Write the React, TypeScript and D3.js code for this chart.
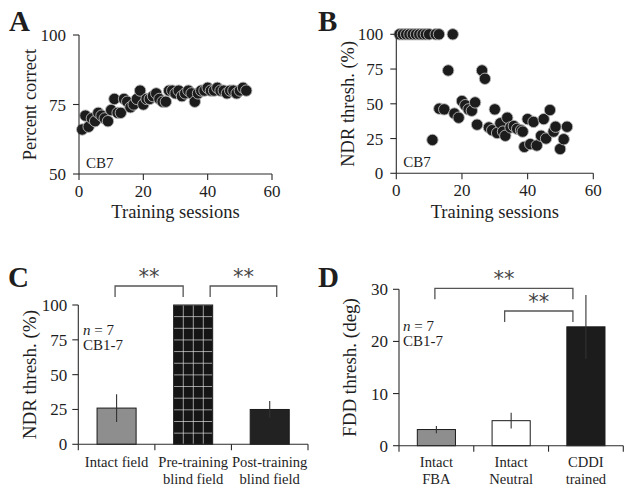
import React from "react";
import * as d3 from "d3";

// ---------- Data ----------
const aSessions = [1,2,3,4,5,6,7,8,9,10,11,12,13,14,15,16,17,18,19,20,21,22,23,24,25,26,27,28,29,30,31,32,33,34,35,36,37,38,39,40,41,42,43,44,45,46,47,48,49,50,51,52];
const aPercent = [66,71,67,70,69,72,71,70,69,73,77,72,72,77,76,74,75,77,80,75,77,77,78,79,77,76,76,80,80,79,80,78,79,80,79,76,79,80,80,81,80,80,81,80,80,79,80,80,79,80,81,80];

const bSessions = [1,2,3,4,5,6,7,8,9,10,12,13,11,13.1,14.6,15.8,17.2,17.7,19,20,21,22,23,24,24.6,26.1,27,28.2,29.2,30,30.7,31.7,32.5,33.2,33.8,34.8,35.8,36.8,38,38.5,39,40,40.8,41.8,42.8,44.1,44.9,45.6,46.8,47.9,48.5,49.9,51,52];
const bThresh = [100,100,100,100,100,100,100,100,100,100,100,100,24,46.5,46,74,100,43,40,52,49,46,45,51,35,74,68,33,31,46,29,36,30,27,40,33,34,32,31,30,19,39,21,37,20,27,39,25,45.5,30,33.5,17.5,24.5,33.5];

const cCategories = [["Intact field"], ["Pre-training", "blind field"], ["Post-training", "blind field"]];
const cValues = [26, 100, 25];
const cErrors = [10, 0, 6];

const dCategories = [["Intact", "FBA"], ["Intact", "Neutral"], ["CDDI", "trained"]];
const dValues = [3.1, 4.8, 22.8];
const dErrors = [0.7, 1.5, 6.1];

const abXTicks = [0, 20, 40, 60];
const aYTicks = [50, 75, 100];
const bYTicks = [0, 25, 50, 75, 100];
const cYTicks = [0, 25, 50, 75, 100];
const dYTicks = [0, 10, 20, 30];

// ---------- Styles ----------
const FONT = "'Liberation Serif', 'Times New Roman', serif";
const AX = "#2a2a2a";
const TXT = "#1e1e1e";

function YAxis({ x, scale, ticks, gap, fontSize = 17 }) {
  const [r0, r1] = scale.range();
  return (
    <g>
      <line x1={x} x2={x} y1={r0} y2={r1} stroke={AX} strokeWidth={1.1} />
      {ticks.map((t) => (
        <g key={t}>
          <line x1={x - 6} x2={x} y1={scale(t)} y2={scale(t)} stroke={AX} strokeWidth={1.1} />
          <text x={x - gap} y={scale(t) + 6} textAnchor="end" fontSize={fontSize} fill={TXT} fontFamily={FONT}>{t}</text>
        </g>
      ))}
    </g>
  );
}

function Scatter({ x0, x1, yTop, yBot, yDomain, yTicks, xs, ys, ylabel, ylabelX, title, titleX }) {
  const xScale = d3.scaleLinear().domain([0, 60]).range([x0, x1]);
  const yScale = d3.scaleLinear().domain(yDomain).range([yBot, yTop]);
  return (
    <g>
      <text x={titleX} y={31} fontSize={29} fontWeight="bold" fontFamily={FONT} fill={TXT}>{title}</text>
      {xs.map((x, i) => (
        <circle key={i} cx={xScale(x)} cy={yScale(ys[i])} r={5.7} fill="#1c1c1c" stroke="#b8b8b8" strokeWidth={0.9} />
      ))}
      <YAxis x={x0} scale={yScale} ticks={yTicks} gap={13} />
      <line x1={x0} x2={x1} y1={yBot} y2={yBot} stroke={AX} strokeWidth={1.1} />
      {abXTicks.map((t) => (
        <g key={t}>
          <line x1={xScale(t)} x2={xScale(t)} y1={yBot} y2={yBot + 6} stroke={AX} strokeWidth={1.1} />
          <text x={xScale(t)} y={yBot + 23} textAnchor="middle" fontSize={17} fill={TXT} fontFamily={FONT}>{t}</text>
        </g>
      ))}
      <text x={(x0 + x1) / 2} y={218} textAnchor="middle" fontSize={18.5} fill={TXT} fontFamily={FONT}>Training sessions</text>
      <text transform={`translate(${ylabelX},${(yTop + yBot) / 2}) rotate(-90)`} textAnchor="middle" fontSize={18.5} fill={TXT} fontFamily={FONT}>{ylabel}</text>
      <text x={x0 + 7} y={yBot - 6} fontSize={15} fill={TXT} fontFamily={FONT}>CB7</text>
    </g>
  );
}

function Bars({ x0, x1, yTop, yBot, yMax, yTicks, values, errors, categories, fills, ylabel, ylabelX, title, titleX, noteX, noteY, brackets, patternIdx }) {
  const band = d3.scaleBand().domain(d3.range(categories.length)).range([x0, x1]);
  const yScale = d3.scaleLinear().domain([0, yMax]).range([yBot, yTop]);
  const bw = band.bandwidth() * 0.51;
  const boundaries = d3.range(categories.length + 1).map((i) => x0 + i * band.step());
  return (
    <g>
      <text x={titleX} y={287} fontSize={29} fontWeight="bold" fontFamily={FONT} fill={TXT}>{title}</text>
      {values.map((v, i) => {
        const cx = band(i) + band.bandwidth() / 2;
        const bx = cx - bw / 2;
        const top = yScale(v);
        return (
          <g key={i}>
            <rect x={bx} y={top} width={bw} height={yBot - top} fill={i === patternIdx ? "url(#grid)" : fills[i]} stroke="#1a1a1a" strokeWidth={1} />
            {errors[i] > 0 && (
              <line x1={cx} x2={cx} y1={yScale(v + errors[i])} y2={yScale(v - errors[i])} stroke="#333" strokeWidth={1.1} />
            )}
            {categories[i].map((line, j) => (
              <text key={j} x={cx} y={467 + j * 17} textAnchor="middle" fontSize={14.6} fill={TXT} fontFamily={FONT}>{line}</text>
            ))}
          </g>
        );
      })}
      <YAxis x={x0} scale={yScale} ticks={yTicks} gap={11} />
      <line x1={x0} x2={x1} y1={yBot} y2={yBot} stroke={AX} strokeWidth={1.1} />
      {boundaries.map((b, i) => (
        <line key={i} x1={b} x2={b} y1={yBot} y2={yBot + 6} stroke={AX} strokeWidth={1.1} />
      ))}
      <text transform={`translate(${ylabelX},${(yTop + yBot) / 2}) rotate(-90)`} textAnchor="middle" fontSize={19} fill={TXT} fontFamily={FONT}>{ylabel}</text>
      <text x={noteX} y={noteY} fontSize={15} fill={TXT} fontFamily={FONT}><tspan fontStyle="italic">n</tspan> = 7</text>
      <text x={noteX} y={noteY + 15} fontSize={15} fill={TXT} fontFamily={FONT}>CB1-7</text>
      {brackets.map((br, k) => {
        const xa = band(br.from) + band.bandwidth() / 2 + br.dFrom;
        const xb = band(br.to) + band.bandwidth() / 2 + br.dTo;
        return (
          <g key={k}>
            <path d={`M${xa},${br.y + 11} L${xa},${br.y} L${xb},${br.y} L${xb},${br.y + 11}`} fill="none" stroke="#555" strokeWidth={1.3} />
            <text x={(xa + xb) / 2} y={br.y - 2} textAnchor="middle" fontSize={21} fill="#444" fontFamily="'DejaVu Sans', sans-serif">**</text>
          </g>
        );
      })}
    </g>
  );
}

export default function App() {
  return (
    <svg width={632} height={494} style={{ position: "absolute", left: 0, top: 0, background: "#fff" }}>
      <defs>
        <pattern id="grid" patternUnits="userSpaceOnUse" x={172.8} y={444.3} width={10} height={11.65}>
          <rect width={10} height={11.65} fill="#151515" />
          <line x1={0} x2={10} y1={0} y2={0} stroke="#e8e8e8" strokeWidth={1.3} />
          <line x1={0} x2={0} y1={0} y2={11.65} stroke="#e8e8e8" strokeWidth={1.3} />
        </pattern>
      </defs>
      <rect width={632} height={494} fill="#fff" />
      <Scatter x0={79} x1={272} yTop={35} yBot={174} yDomain={[50, 100]} yTicks={aYTicks} xs={aSessions} ys={aPercent} ylabel="Percent correct" ylabelX={36} title="A" titleX={9} />
      <Scatter x0={396.3} x1={593.3} yTop={34.3} yBot={173.3} yDomain={[0, 100]} yTicks={bYTicks} xs={bSessions} ys={bThresh} ylabel="NDR thresh. (%)" ylabelX={354} title="B" titleX={318} />
      <Bars x0={78.3} x1={308} yTop={305} yBot={444.3} yMax={100} yTicks={cYTicks} values={cValues} errors={cErrors} categories={cCategories}
        fills={["#8e8e8e", "#151515", "#222"]} patternIdx={1} ylabel="NDR thresh. (%)" ylabelX={36} title="C" titleX={8} noteX={83} noteY={335}
        brackets={[{ from: 0, to: 1, dFrom: -1.5, dTo: -10, y: 286 }, { from: 1, to: 2, dFrom: 17, dTo: 7, y: 286 }]} />
      <Bars x0={399} x1={623.3} yTop={289.3} yBot={445.7} yMax={30} yTicks={dYTicks} values={dValues} errors={dErrors} categories={dCategories}
        fills={["#8e8e8e", "#ffffff", "#1c1c1c"]} patternIdx={-1} ylabel="FDD thresh. (deg)" ylabelX={356} title="D" titleX={318} noteX={403} noteY={331}
        brackets={[{ from: 0, to: 2, dFrom: -1.5, dTo: -13, y: 288.3 }, { from: 1, to: 2, dFrom: -6.5, dTo: -13, y: 311 }]} />
    </svg>
  );
}
